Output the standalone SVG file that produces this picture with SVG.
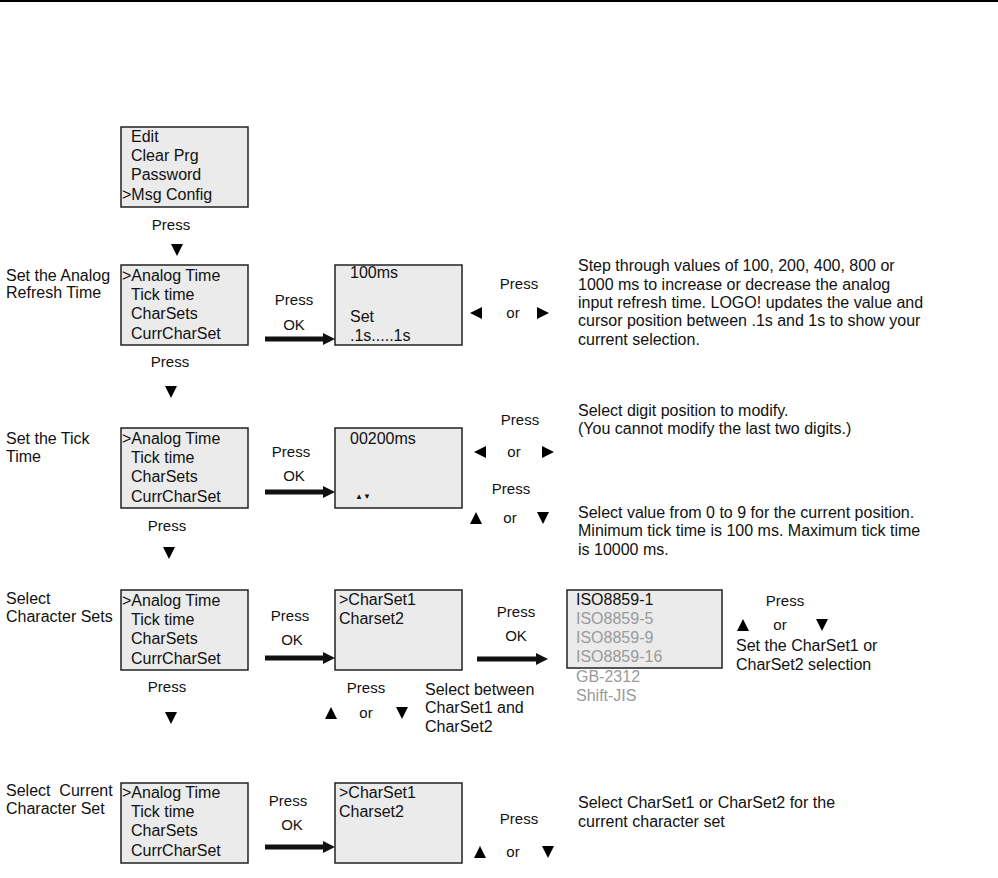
<svg xmlns="http://www.w3.org/2000/svg" width="998" height="878" viewBox="0 0 998 878">
<defs>
<style>
text{font-family:"Liberation Sans",Arial,sans-serif;font-size:16px;fill:#111}
.p{font-size:15px}
.c{text-anchor:middle}
.g{fill:#9a9a9a}
.box{fill:#ebebeb;stroke:#222;stroke-width:1.5}
.shaft{stroke:#111;stroke-width:5}
</style>
<path id="dn" d="M-6,-6 L6,-6 L0,6 Z"/>
<path id="up" d="M-6,6 L6,6 L0,-6 Z"/>
<path id="lf" d="M6,-6 L6,6 L-6,0 Z"/>
<path id="rt" d="M-6,-6 L-6,6 L6,0 Z"/>
<marker id="ah" viewBox="0 0 10 10" refX="0" refY="5" markerWidth="2.4" markerHeight="3" orient="auto" markerUnits="strokeWidth">
<path d="M0,0 L10,5 L0,10 Z" fill="#111"/>
</marker>
</defs>
<rect x="0" y="0" width="998" height="878" fill="#fff"/>
<line x1="0" y1="1" x2="998" y2="1" stroke="#000" stroke-width="2"/>

<g id="menu-top">
<rect class="box" x="121" y="127" width="127" height="80"/>
<text x="131" y="142">Edit</text>
<text x="131" y="161">Clear Prg</text>
<text x="131" y="180">Password</text>
<text x="122" y="200">&gt;Msg Config</text>
</g>

<g id="label-analog">
<text x="6" y="281">Set the Analog</text>
<text x="6" y="298">Refresh Time</text>
</g>
<g id="menu-1">
<rect class="box" x="121" y="265" width="127" height="80"/>
<text x="122" y="281">&gt;Analog Time</text>
<text x="131" y="300">Tick time</text>
<text x="131" y="319">CharSets</text>
<text x="131" y="339">CurrCharSet</text>
</g>
<g id="screen-analog">
<rect class="box" x="335" y="265" width="127" height="80"/>
<text x="350" y="278">100ms</text>
<text x="350" y="322">Set</text>
<text x="350" y="341">.1s.....1s</text>
</g>
<g id="desc-analog">
<text x="578" y="271">Step through values of 100, 200, 400, 800 or</text>
<text x="578" y="290">1000 ms to increase or decrease the analog</text>
<text x="578" y="308">input refresh time. LOGO! updates the value and</text>
<text x="578" y="326">cursor position between .1s and 1s to show your</text>
<text x="578" y="345">current selection.</text>
</g>

<g id="label-tick">
<text x="6" y="444">Set the Tick</text>
<text x="6" y="462">Time</text>
</g>
<g id="menu-2">
<rect class="box" x="121" y="428" width="127" height="80"/>
<text x="122" y="444">&gt;Analog Time</text>
<text x="131" y="463">Tick time</text>
<text x="131" y="482">CharSets</text>
<text x="131" y="502">CurrCharSet</text>
</g>
<g id="screen-tick">
<rect class="box" x="335" y="428" width="127" height="80"/>
<text x="350" y="444">00200ms</text>
<text x="355" y="499" style="font-size:8px">▲▼</text>
</g>
<g id="desc-tick">
<text x="578" y="416">Select digit position to modify.</text>
<text x="578" y="434">(You cannot modify the last two digits.)</text>
<text x="578" y="518">Select value from 0 to 9 for the current position.</text>
<text x="578" y="536">Minimum tick time is 100 ms. Maximum tick time</text>
<text x="578" y="555">is 10000 ms.</text>
</g>

<g id="label-charsets">
<text x="6" y="604">Select</text>
<text x="6" y="622">Character Sets</text>
</g>
<g id="menu-3">
<rect class="box" x="121" y="590" width="127" height="80"/>
<text x="122" y="606">&gt;Analog Time</text>
<text x="131" y="625">Tick time</text>
<text x="131" y="644">CharSets</text>
<text x="131" y="664">CurrCharSet</text>
</g>
<g id="screen-charsets">
<rect class="box" x="335" y="590" width="127" height="80"/>
<text x="339" y="605">&gt;CharSet1</text>
<text x="339" y="624">Charset2</text>
</g>
<g id="iso-list">
<rect class="box" x="567" y="590" width="155" height="78"/>
<text x="576" y="605">ISO8859-1</text>
<text class="g" x="576" y="624">ISO8859-5</text>
<text class="g" x="576" y="643">ISO8859-9</text>
<text class="g" x="576" y="662">ISO8859-16</text>
<text class="g" x="576" y="682">GB-2312</text>
<text class="g" x="576" y="701">Shift-JIS</text>
</g>
<g id="desc-charsets">
<text x="425" y="695">Select between</text>
<text x="425" y="713">CharSet1 and</text>
<text x="425" y="732">CharSet2</text>
<text x="736" y="651">Set the CharSet1 or</text>
<text x="736" y="670">CharSet2 selection</text>
</g>

<g id="label-curr">
<text x="6" y="796" style="white-space:pre">Select  Current</text>
<text x="6" y="814">Character Set</text>
</g>
<g id="menu-4">
<rect class="box" x="121" y="783" width="127" height="80"/>
<text x="122" y="798">&gt;Analog Time</text>
<text x="131" y="817">Tick time</text>
<text x="131" y="836">CharSets</text>
<text x="131" y="856">CurrCharSet</text>
</g>
<g id="screen-curr">
<rect class="box" x="335" y="783" width="127" height="80"/>
<text x="339" y="798">&gt;CharSet1</text>
<text x="339" y="817">Charset2</text>
</g>
<g id="desc-curr">
<text x="578" y="808">Select CharSet1 or CharSet2 for the</text>
<text x="578" y="827">current character set</text>
</g>

<g id="connectors">
<text class="c p" x="171" y="230">Press</text>
<use href="#dn" x="177" y="250"/>
<text class="c p" x="170" y="367">Press</text>
<use href="#dn" x="171" y="392"/>
<text class="c p" x="167" y="531">Press</text>
<use href="#dn" x="169" y="553"/>
<text class="c p" x="167" y="692">Press</text>
<use href="#dn" x="171" y="718"/>

<text class="c p" x="294" y="305">Press</text>
<text class="c p" x="294" y="330">OK</text>
<line class="shaft" x1="265" y1="339" x2="323" y2="339" marker-end="url(#ah)"/>
<text class="c p" x="291" y="457">Press</text>
<text class="c p" x="294" y="481">OK</text>
<line class="shaft" x1="265" y1="492" x2="323" y2="492" marker-end="url(#ah)"/>
<text class="c p" x="290" y="621">Press</text>
<text class="c p" x="292" y="645">OK</text>
<line class="shaft" x1="265" y1="658" x2="323" y2="658" marker-end="url(#ah)"/>
<text class="c p" x="516" y="617">Press</text>
<text class="c p" x="516" y="641">OK</text>
<line class="shaft" x1="477" y1="659" x2="536" y2="659" marker-end="url(#ah)"/>
<text class="c p" x="288" y="806">Press</text>
<text class="c p" x="292" y="830">OK</text>
<line class="shaft" x1="265" y1="847" x2="323" y2="847" marker-end="url(#ah)"/>

<text class="c p" x="519" y="289">Press</text>
<use href="#lf" x="476" y="313"/>
<text class="c p" x="513" y="318">or</text>
<use href="#rt" x="543" y="313"/>

<text class="c p" x="520" y="425">Press</text>
<use href="#lf" x="480" y="452"/>
<text class="c p" x="514" y="457">or</text>
<use href="#rt" x="548" y="452"/>
<text class="c p" x="511" y="494">Press</text>
<use href="#up" x="476" y="518"/>
<text class="c p" x="510" y="523">or</text>
<use href="#dn" x="543" y="518"/>

<text class="c p" x="366" y="693">Press</text>
<use href="#up" x="331" y="713"/>
<text class="c p" x="366" y="718">or</text>
<use href="#dn" x="402" y="713"/>

<text class="c p" x="785" y="606">Press</text>
<use href="#up" x="743" y="625"/>
<text class="c p" x="780" y="630">or</text>
<use href="#dn" x="822" y="625"/>

<text class="c p" x="519" y="824">Press</text>
<use href="#up" x="480" y="852"/>
<text class="c p" x="513" y="857">or</text>
<use href="#dn" x="548" y="852"/>
</g>
</svg>
